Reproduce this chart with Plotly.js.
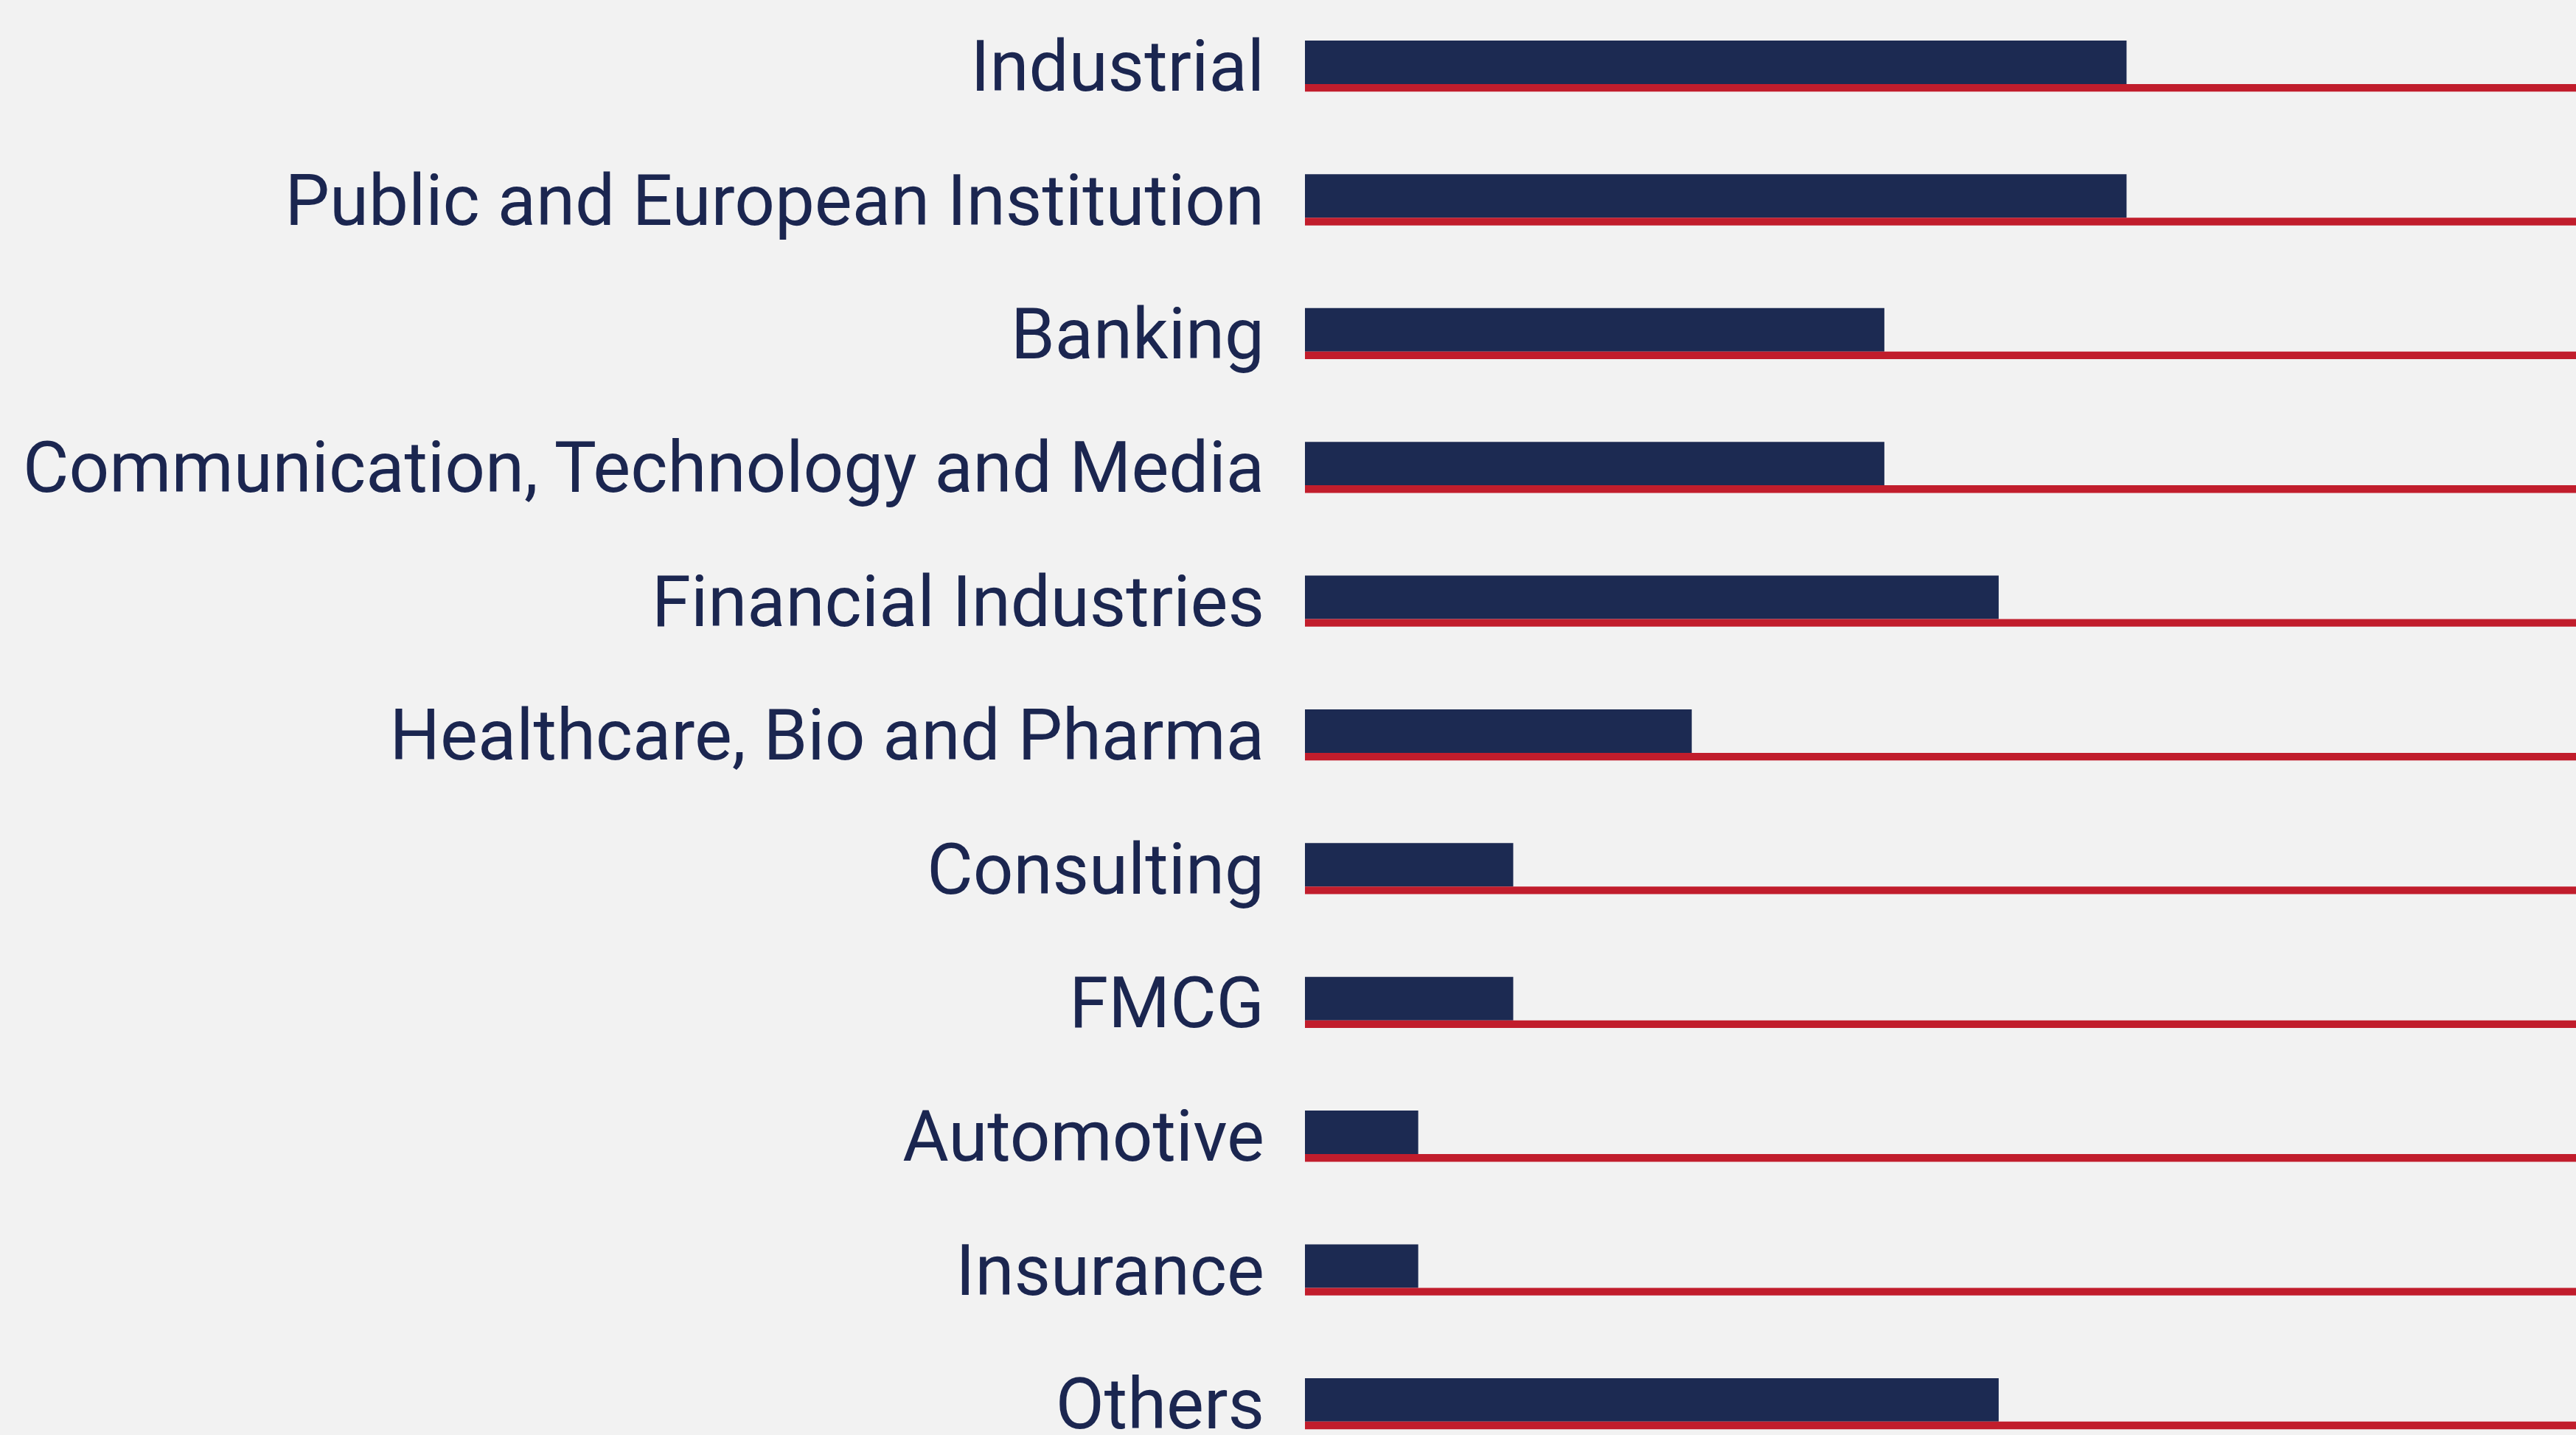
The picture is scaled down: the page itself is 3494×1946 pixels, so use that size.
<!DOCTYPE html>
<html>
<head>
<meta charset="utf-8">
<script src="https://cdn.plot.ly/plotly-3.0.1.min.js"></script>
<style>
  html, body { margin: 0; padding: 0; background: #f2f2f2; }
  #chart { width: 3494px; height: 1946px; }
</style>
</head>
<body>
<div id="chart"></div>
<script>
// Categories, top to bottom
const sectors = [
  "Industrial",
  "Public and European Institution",
  "Banking",
  "Communication, Technology and Media",
  "Financial Industries",
  "Healthcare, Bio and Pharma",
  "Consulting",
  "FMCG",
  "Automotive",
  "Insurance",
  "Others"
];
// Estimated share (%) per sector
const shares = [15.74, 15.74, 11.10, 11.10, 13.29, 7.41, 3.99, 3.99, 2.17, 2.17, 13.29];
// Red baseline track for each row (runs to the axis end)
const trackMax = 24.35;
const track = [24.35, 24.35, 24.35, 24.35, 24.35, 24.35, 24.35, 24.35, 24.35, 24.35, 24.35];

const navy = "#1c2a52";
const red = "#c11d2c";
const textNavy = "#1b2650";

const traces = [
  {
    type: "bar",
    orientation: "h",
    y: sectors,
    x: shares,
    base: 0,
    offset: -0.191,
    width: 0.325,
    marker: { color: navy, line: { width: 0 } },
    hoverinfo: "x+y",
    showlegend: false
  },
  {
    type: "bar",
    orientation: "h",
    y: sectors,
    x: track,
    base: 0,
    offset: 0.134,
    width: 0.057,
    marker: { color: red, line: { width: 0 } },
    hoverinfo: "skip",
    showlegend: false
  }
];

const layout = {
  width: 3494,
  height: 1946,
  margin: { l: 1770, r: 0, t: 0, b: 0, pad: 0 },
  paper_bgcolor: "#f2f2f2",
  plot_bgcolor: "#f2f2f2",
  barmode: "overlay",
  xaxis: {
    range: [0, trackMax],
    showgrid: false,
    zeroline: false,
    showline: false,
    showticklabels: false,
    ticks: "",
    fixedrange: true
  },
  yaxis: {
    type: "category",
    categoryorder: "array",
    categoryarray: sectors,
    range: [10.234, -0.494],
    showgrid: false,
    zeroline: false,
    showline: false,
    ticks: "",
    ticklabelstandoff: 54,
    tickfont: { family: "Roboto, 'Noto Sans', sans-serif", size: 96, color: textNavy },
    fixedrange: true
  },
  font: { family: "Roboto, 'Noto Sans', sans-serif", color: textNavy }
};

Plotly.newPlot("chart", traces, layout, { displayModeBar: false, staticPlot: true });
</script>
</body>
</html>
